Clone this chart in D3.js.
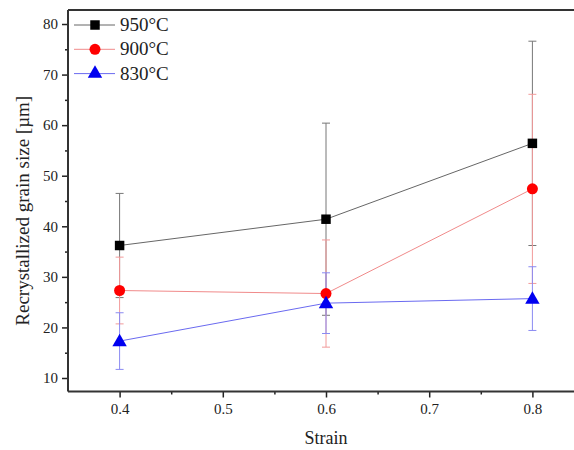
<!DOCTYPE html>
<html>
<head>
<meta charset="utf-8">
<script src="https://cdn.jsdelivr.net/npm/d3@7"></script>
<style>
  body { margin: 0; background: #fff; }
  svg { display: block; }
</style>
</head>
<body>
<svg width="574" height="450"></svg>
<script>
const strain = [0.4, 0.6, 0.8];
const xTicks = [0.4, 0.5, 0.6, 0.7, 0.8];
const yTicks = [10, 20, 30, 40, 50, 60, 70, 80];

const series = [
  { name: "950°C", mean: [36.2, 41.4, 56.4], err: [10.3, 19.0, 20.2] },
  { name: "900°C", mean: [27.3, 26.7, 47.4], err: [6.6, 10.6, 18.7] },
  { name: "830°C", mean: [17.3, 24.8, 25.7], err: [5.6, 6.0, 6.3] }
];

const serif = '"Liberation Serif", "Times New Roman", serif';

const style = {
  "950°C": { line: "#666", bar: "#777", fill: "#000", shape: d3.symbolSquare, size: 90 },
  "900°C": { line: "#f08a8a", bar: "#f29a9a", fill: "#f00", shape: d3.symbolCircle, size: 95 },
  "830°C": { line: "#6a6af0", bar: "#8a8af2", fill: "#0000f0", shape: d3.symbolTriangle, size: 90 }
};

const svg = d3.select("svg");
const plot = { left: 68, right: 584, top: 10, bottom: 391.5 };

const x = d3.scaleLinear().domain([0.35, 0.85]).range([plot.left, plot.right]);
const y = d3.scaleLinear().domain([7.33, 82.77]).range([plot.bottom, plot.top]);

// axes
const xAxis = svg.append("g").attr("transform", `translate(0,${plot.bottom})`)
  .call(d3.axisBottom(x).tickValues(xTicks).tickSize(6).tickPadding(6).tickFormat(d3.format(".1f")));
svg.append("g").attr("transform", `translate(0,${plot.bottom})`)
  .call(d3.axisBottom(x).tickValues([0.45, 0.55, 0.65, 0.75]).tickSize(3).tickFormat(""))
  .select(".domain").remove();

const yAxis = svg.append("g").attr("transform", `translate(${plot.left},0)`)
  .call(d3.axisLeft(y).tickValues(yTicks).tickSize(6).tickPadding(4));
svg.append("g").attr("transform", `translate(${plot.left},0)`)
  .call(d3.axisLeft(y).tickValues([15, 25, 35, 45, 55, 65, 75]).tickSize(3).tickFormat(""))
  .select(".domain").remove();

svg.selectAll(".tick line").attr("stroke", "#222").attr("stroke-width", 1.5);
svg.selectAll(".tick text").style("font-size", "15px").style("font-family", serif).attr("fill", "#222");
xAxis.select(".domain").remove();
yAxis.select(".domain").remove();

// frame
svg.append("line").attr("x1", plot.left).attr("x2", plot.left).attr("y1", plot.top).attr("y2", plot.bottom)
  .attr("stroke", "#333").attr("stroke-width", 2);
svg.append("line").attr("x1", plot.left).attr("x2", plot.right).attr("y1", plot.bottom).attr("y2", plot.bottom)
  .attr("stroke", "#333").attr("stroke-width", 2);
svg.append("line").attr("x1", plot.left).attr("x2", plot.right).attr("y1", plot.top).attr("y2", plot.top)
  .attr("stroke", "#333").attr("stroke-width", 2);

// axis titles
svg.append("text").attr("x", 326).attr("y", 444).attr("text-anchor", "middle")
  .style("font-family", serif).style("font-size", "18px").attr("fill", "#222").text("Strain");
svg.append("text").attr("transform", `translate(29,${(plot.top + plot.bottom) / 2 + 10}) rotate(-90)`)
  .attr("text-anchor", "middle").style("font-family", serif).style("font-size", "19px")
  .attr("fill", "#222").text("Recrystallized grain size [µm]");

// error bars
series.forEach(s => {
  const st = style[s.name];
  const g = svg.append("g");
  strain.forEach((v, i) => {
    const hi = y(s.mean[i] + s.err[i]), lo = y(s.mean[i] - s.err[i]), cx = x(v);
    g.append("line").attr("x1", cx).attr("x2", cx).attr("y1", hi).attr("y2", lo)
      .attr("stroke", st.bar).attr("stroke-width", 1);
    [hi, lo].forEach(yy => g.append("line").attr("x1", cx - 4).attr("x2", cx + 4)
      .attr("y1", yy).attr("y2", yy).attr("stroke", st.bar).attr("stroke-width", 1));
  });
});

// lines + markers
const line = d3.line().x((d, i) => x(strain[i])).y(d => y(d));
series.forEach(s => {
  const st = style[s.name];
  svg.append("path").datum(s.mean).attr("d", line)
    .attr("fill", "none").attr("stroke", st.line).attr("stroke-width", 1);
});
series.forEach(s => {
  const st = style[s.name];
  svg.selectAll(null).data(s.mean).enter().append("path")
    .attr("d", d3.symbol().type(st.shape).size(st.size))
    .attr("transform", (d, i) => `translate(${x(strain[i])},${y(d) + (st.shape === d3.symbolTriangle ? 1 : 0)})`)
    .attr("fill", st.fill);
});

// legend
const legend = svg.append("g");
series.forEach((s, i) => {
  const st = style[s.name];
  const ly = 25 + i * 24.3;
  legend.append("line").attr("x1", 74).attr("x2", 115).attr("y1", ly).attr("y2", ly)
    .attr("stroke", st.line).attr("stroke-width", 1);
  legend.append("path").attr("d", d3.symbol().type(st.shape).size(st.size))
    .attr("transform", `translate(95,${ly})`).attr("fill", st.fill);
  legend.append("text").attr("x", 120).attr("y", ly + 6).style("font-family", serif)
    .style("font-size", "19px").attr("fill", "#222").text(s.name);
});
</script>
</body>
</html>
